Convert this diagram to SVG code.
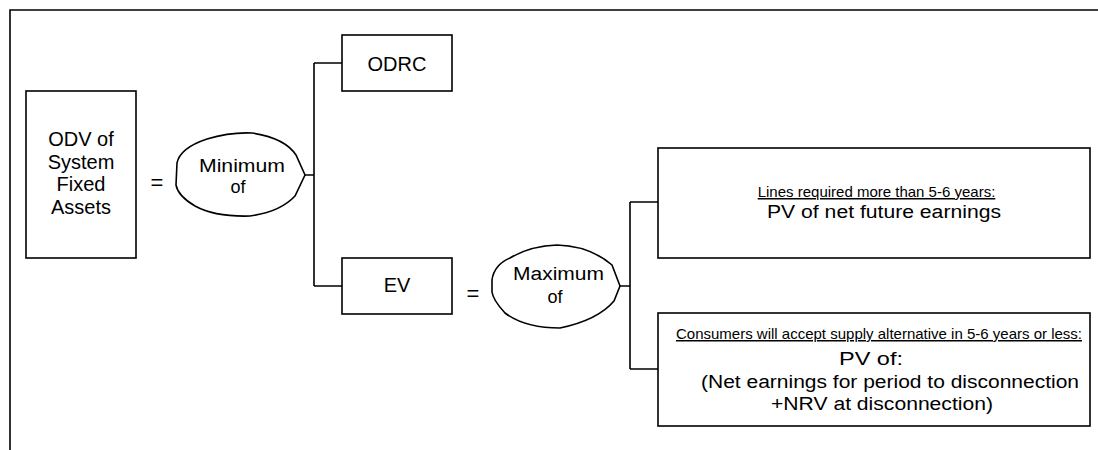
<svg xmlns="http://www.w3.org/2000/svg" width="1098" height="450" viewBox="0 0 1098 450">
<style>
.ln{fill:none;stroke:#000;stroke-width:1.6}
.bx{fill:#fff;stroke:#000;stroke-width:1.6}
text{font-family:"Liberation Sans",Arial,Helvetica,sans-serif;fill:#000;text-anchor:middle}
.t20{font-size:20px}
.t18{font-size:18px}
.t15{font-size:15px;text-decoration:underline}
.eq{font-size:22px}
</style>
<rect width="1098" height="450" fill="#fff"/>
<g id="frame">
<path class="ln" d="M10,450 V10 H1098"/>
</g>
<g id="connectors">
<path class="ln" d="M305,175 H314 M314,63 V286 M314,63 H342 M314,286 H342"/>
<path class="ln" d="M620,286 H630 M630,202 V369 M630,202 H658 M630,369 H658"/>
</g>
<g id="odv">
<rect class="bx" x="26" y="91" width="110" height="167"/>
<text class="t20" x="81" y="146">ODV of</text>
<text class="t20" x="81" y="168.5">System</text>
<text class="t20" x="81" y="191">Fixed</text>
<text class="t20" x="81" y="213.5">Assets</text>
</g>
<g id="eq1"><text class="eq" x="157" y="190">=</text></g>
<g id="minimum">
<path class="bx" d="M177,163 Q180,148 207,139 Q230,132 252,133 Q285,138 296,155 L305,175 L295,196 Q280,212 250,216 Q215,217 195,206 Q178,196 176,185 Z"/>
<text class="t18" x="242" y="171.5" textLength="86" lengthAdjust="spacingAndGlyphs">Minimum</text>
<text class="t18" x="238" y="193">of</text>
</g>
<g id="odrc">
<rect class="bx" x="342" y="35" width="110" height="56"/>
<text class="t20" x="397" y="70.5">ODRC</text>
</g>
<g id="ev">
<rect class="bx" x="342" y="258" width="110" height="56"/>
<text class="t20" x="397" y="291.5">EV</text>
</g>
<g id="eq2"><text class="eq" x="473" y="301">=</text></g>
<g id="maximum">
<path class="bx" d="M492,280 Q494,265 510,258 Q530,246 557,245 Q590,246 612,265 L620,286 L614,301 Q598,320 560,328 Q525,328 505,313 Q493,300 492,292 Z"/>
<text class="t18" x="558.5" y="280" textLength="91" lengthAdjust="spacingAndGlyphs">Maximum</text>
<text class="t18" x="555" y="303">of</text>
</g>
<g id="lines-required">
<rect class="bx" x="658" y="148" width="432" height="110"/>
<text class="t15" x="876.5" y="197">Lines required more than 5-6 years:</text>
<text class="t18" x="884" y="217.5" textLength="234" lengthAdjust="spacingAndGlyphs">PV of net future earnings</text>
</g>
<g id="consumers">
<rect class="bx" x="658" y="313" width="432" height="113"/>
<text class="t15" x="879" y="339">Consumers will accept supply alternative in 5-6 years or less:</text>
<text class="t18" x="871" y="365" textLength="64" lengthAdjust="spacingAndGlyphs">PV of:</text>
<text class="t18" x="890" y="388" textLength="378" lengthAdjust="spacingAndGlyphs">(Net earnings for period to disconnection</text>
<text class="t18" x="882" y="410" textLength="222" lengthAdjust="spacingAndGlyphs">+NRV at disconnection)</text>
</g>
</svg>
